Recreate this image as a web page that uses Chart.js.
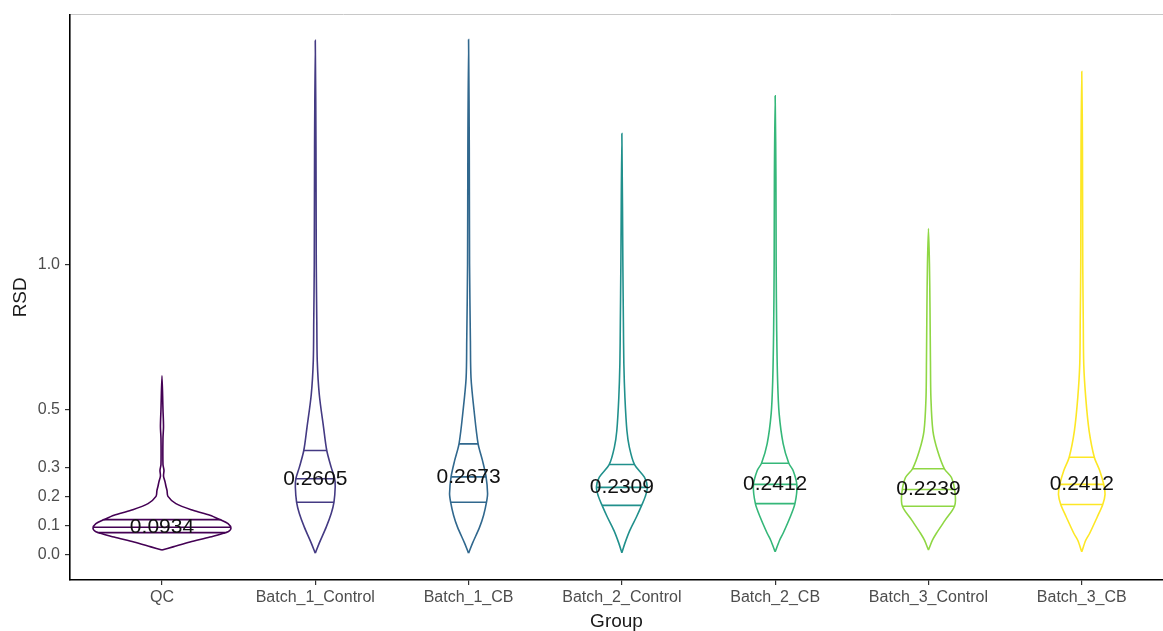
<!DOCTYPE html>
<html>
<head>
<meta charset="utf-8">
<script src="https://cdn.jsdelivr.net/npm/chart.js@4/dist/chart.umd.min.js"></script>
<style>
html,body{margin:0;padding:0;background:#fff;}
#wrap{width:1163px;height:631px;}
</style>
</head>
<body>
<div id="wrap"><canvas id="c" width="1163" height="631"></canvas></div>
<script>
// ---- data ----
const categories = ['QC','Batch_1_Control','Batch_1_CB','Batch_2_Control','Batch_2_CB','Batch_3_Control','Batch_3_CB'];
const colors = ['#440154','#443A83','#31688E','#21908C','#35B779','#8FD744','#FDE725'];
const medians = [0.0934,0.2605,0.2673,0.2309,0.2412,0.2239,0.2412];
const q25 = [0.075,0.18,0.18,0.169,0.175,0.166,0.172];
const q75 = [0.12,0.358,0.381,0.31,0.314,0.295,0.335];
const yTickValues = [0,0.1,0.2,0.3,0.5,1.0];

// violin profiles: RSD level and half-width (in category units)
const qcRSD   = [0.015,0.026,0.043,0.06,0.078,0.09,0.106,0.12,0.135,0.152,0.175,0.2,0.22,0.235,0.25,0.27,0.29,0.31,0.4,0.44,0.5,0.615];
const qcWidth = [0,0.072,0.183,0.313,0.431,0.45,0.431,0.378,0.313,0.202,0.091,0.039,0.033,0.026,0.02,0.01,0.013,0.0065,0.0065,0.01,0.0065,0];
const b1cRSD   = [0.0045,0.039,0.095,0.141,0.18,0.232,0.26,0.30,0.358,0.438,0.552,0.666,0.8,1.0,1.4,1.771];
const b1cWidth = [0,0.026,0.072,0.104,0.122,0.13,0.127,0.104,0.075,0.054,0.026,0.013,0.01,0.0065,0.0046,0];
const b1bRSD   = [0.0045,0.039,0.094,0.135,0.18,0.21,0.268,0.323,0.382,0.495,0.608,0.735,1.0,1.4,1.774];
const b1bWidth = [0,0.026,0.072,0.098,0.117,0.124,0.114,0.091,0.062,0.036,0.016,0.012,0.0065,0.0046,0];
const b2cRSD   = [0.0055,0.039,0.083,0.129,0.169,0.2,0.232,0.266,0.31,0.369,0.426,0.54,0.656,0.8,1.0,1.45];
const b2cWidth = [0,0.02,0.052,0.095,0.129,0.153,0.166,0.147,0.082,0.049,0.033,0.02,0.013,0.01,0.0065,0];
const b2bRSD   = [0.009,0.049,0.073,0.129,0.175,0.238,0.289,0.314,0.382,0.485,0.598,0.77,1.0,1.3,1.58];
const b2bWidth = [0,0.029,0.052,0.098,0.129,0.142,0.117,0.089,0.052,0.026,0.016,0.01,0.0065,0.005,0];
const b3cRSD   = [0.015,0.049,0.073,0.118,0.166,0.21,0.265,0.295,0.358,0.426,0.54,0.666,0.85,1.0,1.123];
const b3cWidth = [0,0.026,0.052,0.109,0.17,0.174,0.15,0.104,0.059,0.029,0.016,0.013,0.01,0.0065,0];
const b3bRSD   = [0.009,0.049,0.073,0.129,0.172,0.207,0.24,0.289,0.335,0.426,0.54,0.656,0.8,1.0,1.4,1.664];
const b3bWidth = [0,0.026,0.052,0.101,0.137,0.152,0.144,0.117,0.082,0.048,0.026,0.013,0.01,0.0065,0.0046,0];

const profiles = [
  [qcRSD, qcWidth],[b1cRSD, b1cWidth],[b1bRSD, b1bWidth],
  [b2cRSD, b2cWidth],[b2bRSD, b2bWidth],[b3cRSD, b3cWidth],[b3bRSD, b3bWidth]
];

// ---- build datasets ----
function widthAt(rsd, wid, v){
  for(let k=0;k<rsd.length-1;k++){
    if(v>=rsd[k] && v<=rsd[k+1]){
      const t=(v-rsd[k])/(rsd[k+1]-rsd[k]);
      return wid[k]+(wid[k+1]-wid[k])*t;
    }
  }
  return 0;
}
const datasets = [];
profiles.forEach(([rsd, wid], i) => {
  const c = i + 1;
  const pts = [];
  for(let k=0;k<rsd.length;k++) pts.push({x:c-wid[k], y:rsd[k]});
  for(let k=rsd.length-2;k>=0;k--) pts.push({x:c+wid[k], y:rsd[k]});
  datasets.push({data:pts, borderColor:colors[i], borderWidth:1.6, pointRadius:0, fill:false, tension:0.3});
  const qpts = [];
  [q25[i], medians[i], q75[i]].forEach(q => {
    const w = widthAt(rsd, wid, q);
    qpts.push({x:c-w, y:q},{x:c+w, y:q},{x:c, y:null});
  });
  datasets.push({data:qpts, borderColor:colors[i], borderWidth:1.6, pointRadius:0, fill:false, tension:0, spanGaps:false});
});

const medianLabels = {
  id:'medianLabels',
  afterDatasetsDraw(chart){
    const {ctx, scales:{x, y}} = chart;
    ctx.save();
    ctx.font = '21px "Liberation Sans", Arial, sans-serif';
    ctx.fillStyle = '#111';
    ctx.textAlign = 'center';
    ctx.textBaseline = 'middle';
    medians.forEach((m, i) => {
      ctx.fillText(m.toFixed(4), x.getPixelForValue(i+1), y.getPixelForValue(m));
    });
    ctx.restore();
  }
};

Chart.defaults.font.family = '"Liberation Sans", Arial, sans-serif';

new Chart(document.getElementById('c'), {
  type:'line',
  data:{datasets},
  options:{
    responsive:false,
    animation:false,
    events:[],
    layout:{padding:{top:12,left:0,right:0,bottom:0}},
    plugins:{legend:{display:false}, tooltip:{enabled:false}},
    scales:{
      x:{
        type:'linear', position:'bottom', min:0.4, max:7.53,
        afterBuildTicks(s){ s.ticks = categories.map((_,i)=>({value:i+1})); },
        afterFit(s){ s.height = 51; },
        ticks:{callback:(v)=>categories[v-1] ?? '', color:'#4d4d4d', font:{size:16}, padding:3, maxRotation:0, autoSkip:false},
        grid:{display:true, drawOnChartArea:false, drawTicks:true, tickLength:5, color:'#333', lineWidth:1.2},
        border:{display:true, color:'#000', width:1.6},
        title:{display:true, text:'Group', color:'#1a1a1a', font:{size:19}, padding:{top:0,bottom:-2}}
      },
      x2:{
        type:'linear', position:'top', min:0.4, max:7.53,
        afterFit(s){ s.height = 0; },
        ticks:{display:false},
        grid:{display:false},
        border:{display:true, color:'#c8c8c8', width:1}
      },
      y:{
        type:'linear', min:-0.0881, max:1.8598,
        afterBuildTicks(s){ s.ticks = yTickValues.map(v=>({value:v})); },
        afterFit(s){ s.width = 70; },
        ticks:{callback:(v)=>Number(v).toFixed(1), color:'#4d4d4d', font:{size:16}, padding:5},
        grid:{display:true, drawOnChartArea:false, drawTicks:true, tickLength:5, color:'#333', lineWidth:1.2},
        border:{display:true, color:'#000', width:1.6},
        title:{display:true, text:'RSD', color:'#1a1a1a', font:{size:19}, padding:{top:9,bottom:0}}
      }
    }
  },
  plugins:[medianLabels]
});
</script>
</body>
</html>
